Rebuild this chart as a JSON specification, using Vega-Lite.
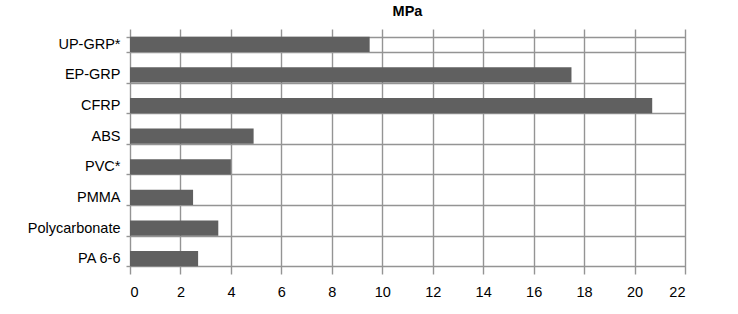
{
  "$schema": "https://vega.github.io/schema/vega-lite/v6.json",
  "autosize": "none",
  "width": 555,
  "height": 245,
  "padding": {"left": 130, "top": 29, "right": 53, "bottom": 40},
  "background": "white",
  "title": {
    "text": "MPa",
    "font": "Liberation Sans",
    "fontSize": 14.5,
    "fontWeight": "bold",
    "color": "#000000",
    "anchor": "middle",
    "offset": 2
  },
  "data": {
    "values": [
      {"material": "UP-GRP*", "mpa": 9.5},
      {"material": "EP-GRP", "mpa": 17.5},
      {"material": "CFRP", "mpa": 20.7},
      {"material": "ABS", "mpa": 4.9},
      {"material": "PVC*", "mpa": 4.0},
      {"material": "PMMA", "mpa": 2.5},
      {"material": "Polycarbonate", "mpa": 3.5},
      {"material": "PA 6-6", "mpa": 2.7}
    ]
  },
  "mark": {"type": "bar", "color": "#606060"},
  "encoding": {
    "y": {
      "field": "material",
      "type": "nominal",
      "sort": null,
      "scale": {"paddingInner": 0.5, "paddingOuter": 0.25},
      "axis": {
        "title": null,
        "tickBand": "extent",
        "grid": true,
        "gridColor": "#949494",
        "gridWidth": 1.4,
        "ticks": true,
        "tickSize": 4,
        "tickColor": "#949494",
        "tickWidth": 1.4,
        "domain": false,
        "labelFont": "Liberation Sans",
        "labelFontSize": 14.5,
        "labelColor": "#000000",
        "labelPadding": 6
      }
    },
    "x": {
      "field": "mpa",
      "type": "quantitative",
      "scale": {"domain": [0, 22], "nice": false},
      "axis": {
        "title": null,
        "values": [0, 2, 4, 6, 8, 10, 12, 14, 16, 18, 20, 22],
        "grid": true,
        "gridColor": "#949494",
        "gridWidth": 1.4,
        "ticks": false,
        "domain": false,
        "labelFont": "Liberation Sans",
        "labelFontSize": 14.5,
        "labelColor": "#000000",
        "labelPadding": 11
      }
    }
  },
  "config": {"view": {"stroke": null}}
}
